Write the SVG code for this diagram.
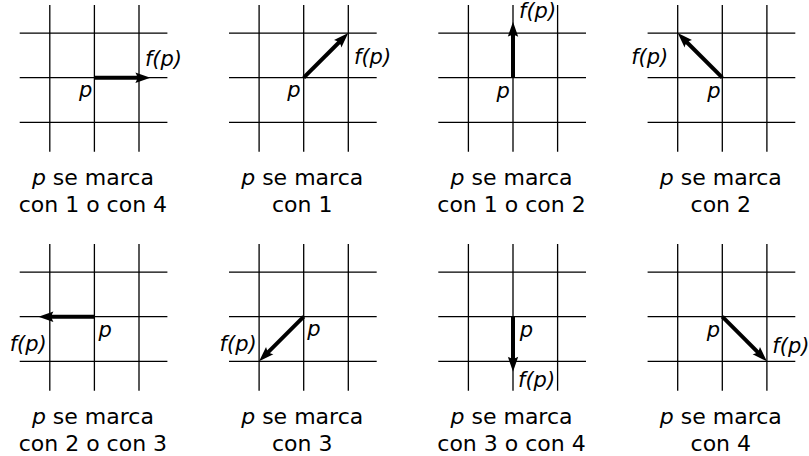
<svg xmlns="http://www.w3.org/2000/svg" xmlns:xlink="http://www.w3.org/1999/xlink" width="809" height="456" viewBox="0 0 809 456">
<style>
.gl{stroke:#000;stroke-width:1.3;fill:none}
.ar{stroke:#000;stroke-width:4;fill:none;marker-end:url(#ah)}
text{font-family:"DejaVu Sans","Liberation Sans",sans-serif;font-size:22px;fill:#000}
.it{font-style:italic}
.lb{font-size:21px}
.cap{text-anchor:middle}
.e{text-anchor:end}
</style>
<defs>
<marker id="ah" markerUnits="userSpaceOnUse" orient="auto" viewBox="-8 -7 17 14" markerWidth="17" markerHeight="14" refX="0" refY="0" overflow="visible">
<path d="M8,0 L-7,-5.2 Q-3.5,0 -7,5.2 Z" fill="#000"/>
</marker>
<g id="grid">
<path class="gl" d="M-44.6,-72.7V74M0,-72.7V74M44.6,-72.7V74M-74.7,-44.6H73M-74.7,0H73M-74.7,44.6H73"/>
</g>
</defs>

<g id="panel1" transform="translate(94.4,77.7)">
<use xlink:href="#grid" href="#grid"/>
<text class="it lb" x="-15.5" y="19.5">p</text>
<text class="it lb" x="50.5" y="-12">f(p)</text>
<text class="cap" x="-1.5" y="107.3"><tspan class="it">p</tspan> se marca</text>
<text class="cap" x="-1.5" y="134.3">con 1 o con 4</text>
</g>
<g id="panel2" transform="translate(303.7,77.7)">
<use xlink:href="#grid" href="#grid"/>
<text class="it lb" x="-16.4" y="19">p</text>
<text class="it lb" x="50.3" y="-13.7">f(p)</text>
<text class="cap" x="-1.5" y="107.3"><tspan class="it">p</tspan> se marca</text>
<text class="cap" x="-1.5" y="134.3">con 1</text>
</g>
<g id="panel3" transform="translate(513,77.7)">
<use xlink:href="#grid" href="#grid"/>
<text class="it lb" x="-16.6" y="20">p</text>
<text class="it lb" x="6" y="-59.3">f(p)</text>
<text class="cap" x="-1.5" y="107.3"><tspan class="it">p</tspan> se marca</text>
<text class="cap" x="-1.5" y="134.3">con 1 o con 2</text>
</g>
<g id="panel4" transform="translate(722.3,77.7)">
<use xlink:href="#grid" href="#grid"/>
<text class="it lb" x="-15" y="20">p</text>
<text class="it lb e" x="-54" y="-13.7">f(p)</text>
<text class="cap" x="-1.5" y="107.3"><tspan class="it">p</tspan> se marca</text>
<text class="cap" x="-1.5" y="134.3">con 2</text>
</g>
<g id="panel5" transform="translate(94.4,316.7)">
<use xlink:href="#grid" href="#grid"/>
<text class="it lb" x="4" y="20">p</text>
<text class="it lb e" x="-47.6" y="34.5">f(p)</text>
<text class="cap" x="-1.5" y="107.3"><tspan class="it">p</tspan> se marca</text>
<text class="cap" x="-1.5" y="134.3">con 2 o con 3</text>
</g>
<g id="panel6" transform="translate(303.7,316.7)">
<use xlink:href="#grid" href="#grid"/>
<text class="it lb" x="3.6" y="19.5">p</text>
<text class="it lb e" x="-47" y="34.5">f(p)</text>
<text class="cap" x="-1.5" y="107.3"><tspan class="it">p</tspan> se marca</text>
<text class="cap" x="-1.5" y="134.3">con 3</text>
</g>
<g id="panel7" transform="translate(513,316.7)">
<use xlink:href="#grid" href="#grid"/>
<text class="it lb" x="6.7" y="20">p</text>
<text class="it lb" x="5" y="70">f(p)</text>
<text class="cap" x="-1.5" y="107.3"><tspan class="it">p</tspan> se marca</text>
<text class="cap" x="-1.5" y="134.3">con 3 o con 4</text>
</g>
<g id="panel8" transform="translate(722.3,316.7)">
<use xlink:href="#grid" href="#grid"/>
<text class="it lb" x="-15.6" y="20.5">p</text>
<text class="it lb" x="50" y="36.6">f(p)</text>
<text class="cap" x="-1.5" y="107.3"><tspan class="it">p</tspan> se marca</text>
<text class="cap" x="-1.5" y="134.3">con 4</text>
</g>

<g id="connectors">
<path class="ar" d="M94.4,77.7 h48"/>
<path class="ar" d="M303.7,77.7 l38.94,-38.94"/>
<path class="ar" d="M513,77.7 v-48"/>
<path class="ar" d="M722.3,77.7 l-38.94,-38.94"/>
<path class="ar" d="M94.4,316.7 h-48"/>
<path class="ar" d="M303.7,316.7 l-38.94,38.94"/>
<path class="ar" d="M513,316.7 v47"/>
<path class="ar" d="M722.3,316.7 l38.94,38.94"/>
</g>
</svg>
